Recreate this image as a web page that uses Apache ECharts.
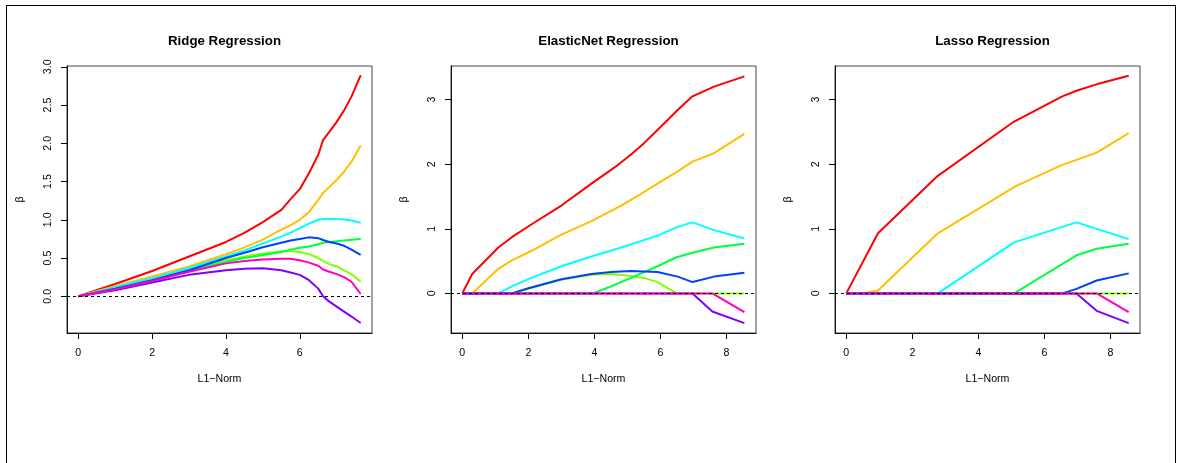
<!DOCTYPE html>
<html><head><meta charset="utf-8">
<script src="https://cdn.jsdelivr.net/npm/echarts@6/dist/echarts.min.js"></script>
<style>
html,body{margin:0;padding:0;background:#fff;overflow:hidden;}
#frame{position:absolute;left:6px;top:5px;width:1170px;height:480px;border:1px solid #000;border-bottom:none;box-sizing:border-box;}
#c{position:absolute;left:0;top:0;width:1178px;height:463px;}
</style></head><body>
<div id="frame"></div><div id="c"></div>
<script>
// ---------- data ----------
const panelTitles = ['Ridge Regression', 'ElasticNet Regression', 'Lasso Regression'];
const lineColors = ['#FF0000', '#FFBF00', '#80FF00', '#00FF40', '#00FFFF', '#0040FF', '#8000FF', '#FF00BF'];

const ridgeX = [0, 1, 2, 3, 4, 4.5, 5, 5.5, 5.75, 6, 6.25, 6.5, 6.63, 6.8, 7.0, 7.2, 7.4, 7.65];
const ridgeRed     = [0, 0.16, 0.33, 0.52, 0.71, 0.83, 0.97, 1.13, 1.27, 1.40, 1.61, 1.85, 2.04, 2.15, 2.28, 2.43, 2.61, 2.89];
const ridgeOrange  = [0, 0.13, 0.26, 0.39, 0.55, 0.64, 0.74, 0.87, 0.93, 1.00, 1.10, 1.26, 1.35, 1.43, 1.52, 1.63, 1.76, 1.97];
const ridgeLime    = [0, 0.11, 0.22, 0.34, 0.47, 0.52, 0.56, 0.59, 0.59, 0.58, 0.55, 0.50, 0.46, 0.42, 0.39, 0.34, 0.29, 0.19];
const ridgeGreen   = [0, 0.10, 0.21, 0.335, 0.45, 0.50, 0.54, 0.58, 0.61, 0.635, 0.65, 0.68, 0.70, 0.71, 0.72, 0.73, 0.74, 0.75];
const ridgeCyan    = [0, 0.12, 0.235, 0.37, 0.52, 0.60, 0.69, 0.78, 0.83, 0.89, 0.95, 1.00, 1.01, 1.01, 1.01, 1.005, 0.99, 0.96];
const ridgeBlue    = [0, 0.10, 0.21, 0.34, 0.50, 0.57, 0.64, 0.70, 0.73, 0.75, 0.77, 0.76, 0.735, 0.71, 0.69, 0.66, 0.61, 0.54];
const ridgePurple  = [0, 0.08, 0.18, 0.28, 0.34, 0.36, 0.365, 0.34, 0.31, 0.28, 0.21, 0.10, 0, -0.07, -0.135, -0.20, -0.265, -0.35];
const ridgeMagenta = [0, 0.09, 0.20, 0.32, 0.43, 0.46, 0.48, 0.49, 0.49, 0.47, 0.44, 0.40, 0.35, 0.32, 0.29, 0.25, 0.19, 0.03];

const enRed     = [[0,0],[0.30,0.30],[1.09,0.71],[1.50,0.87],[2.10,1.07],[3.0,1.36],[3.91,1.70],[4.61,1.95],[5.11,2.15],[5.51,2.33],[5.91,2.53],[6.52,2.84],[6.97,3.05],[7.62,3.20],[8.54,3.36]];
const enOrange  = [[0,0],[0.30,0],[1.09,0.38],[1.50,0.51],[2.10,0.66],[3.0,0.91],[3.91,1.12],[4.81,1.36],[5.31,1.51],[5.91,1.70],[6.52,1.89],[6.97,2.04],[7.62,2.17],[8.54,2.47]];
const enLime    = [[0,0],[1.5,0],[2.0,0.07],[3.0,0.21],[3.91,0.29],[4.51,0.30],[5.11,0.27],[5.51,0.24],[5.91,0.175],[6.49,0],[8.54,0]];
const enGreen   = [[0,0],[3.96,0],[4.51,0.11],[5.11,0.24],[5.91,0.42],[6.49,0.56],[6.97,0.63],[7.62,0.71],[8.54,0.77]];
const enCyan    = [[0,0],[1.09,0],[1.55,0.12],[2.0,0.22],[3.0,0.42],[3.91,0.57],[4.91,0.725],[5.91,0.895],[6.52,1.03],[6.97,1.10],[7.62,0.98],[8.54,0.85]];
const enBlue    = [[0,0],[1.5,0],[2.0,0.08],[3.0,0.22],[3.91,0.30],[4.51,0.33],[5.11,0.345],[5.91,0.33],[6.52,0.26],[6.97,0.175],[7.62,0.26],[8.54,0.32]];
const enPurple  = [[0,0],[6.97,0],[7.57,-0.28],[8.54,-0.46]];
const enMagenta = [[0,0],[7.57,0],[8.54,-0.29]];

const laRed     = [[0,0],[0.96,0.93],[2.77,1.82],[5.08,2.66],[6.54,3.05],[6.99,3.14],[7.60,3.24],[8.55,3.37]];
const laOrange  = [[0,0],[0.45,0],[0.96,0.046],[2.77,0.93],[5.13,1.66],[6.54,1.99],[6.99,2.07],[7.58,2.18],[8.55,2.48]];
const laLime    = [[0,0],[8.55,0]];
const laGreen   = [[0,0],[5.08,0],[6.97,0.59],[7.58,0.69],[8.55,0.77]];
const laCyan    = [[0,0],[2.77,0],[5.08,0.79],[6.54,1.03],[6.97,1.10],[8.55,0.84]];
const laBlue    = [[0,0],[6.54,0],[6.97,0.07],[7.58,0.20],[8.55,0.31]];
const laPurple  = [[0,0],[6.97,0],[7.58,-0.27],[8.55,-0.46]];
const laMagenta = [[0,0],[7.58,0],[8.55,-0.29]];

const ridgeXTicks = [0, 2, 4, 6];
const ridgeYTicks = [0, 0.5, 1, 1.5, 2, 2.5, 3];
const netXTicks = [0, 2, 4, 6, 8];
const netYTicks = [0, 1, 2, 3];
const xName = 'L1\u2212Norm';
const yName = '\u03b2';

// ---------- build ----------
const FONT = '"Liberation Sans", Arial, Helvetica, sans-serif';
const ridgeSeries = [ridgeRed, ridgeOrange, ridgeLime, ridgeGreen, ridgeCyan, ridgeBlue, ridgePurple, ridgeMagenta]
  .map(arr => ridgeX.map((x, i) => [x, arr[i]]));
const enSeries = [enRed, enOrange, enLime, enGreen, enCyan, enBlue, enPurple, enMagenta];
const laSeries = [laRed, laOrange, laLime, laGreen, laCyan, laBlue, laPurple, laMagenta];

const panels = [
  {series: ridgeSeries, xr: [-0.306, 7.956], yr: [-0.48, 3.01], xt: ridgeXTicks, yt: ridgeYTicks, yfmt: v => v.toFixed(1), left: 67},
  {series: enSeries, xr: [-0.342, 8.892], yr: [-0.613, 3.52], xt: netXTicks, yt: netYTicks, yfmt: v => String(v), left: 451},
  {series: laSeries, xr: [-0.342, 8.892], yr: [-0.613, 3.52], xt: netXTicks, yt: netYTicks, yfmt: v => String(v), left: 835}
];
const GW = 305, GH = 267, GT = 66;

const option = {
  animation: false,
  backgroundColor: 'transparent',
  title: panels.map((p, i) => ({
    text: panelTitles[i], left: p.left + GW / 2, top: 30, textAlign: 'center',
    textStyle: {fontFamily: FONT, fontSize: 13.3, fontWeight: 'bold', color: '#000'}
  })),
  grid: panels.map(p => ({left: p.left, top: GT, width: GW, height: GH, show: true, borderColor: '#444', borderWidth: 1, backgroundColor: 'transparent'})),
  xAxis: panels.map((p, i) => ({
    type: 'value', gridIndex: i, min: p.xr[0], max: p.xr[1],
    name: xName, nameLocation: 'middle', nameGap: 41,
    nameTextStyle: {fontFamily: FONT, fontSize: 10.6, color: '#000'},
    axisLine: {show: true, onZero: false, lineStyle: {color: '#111', width: 1}},
    axisTick: {show: true, inside: false, length: 6, lineStyle: {color: '#000', width: 1}, customValues: p.xt},
    axisLabel: {show: true, margin: 15, fontFamily: FONT, fontSize: 10.6, color: '#000', customValues: p.xt, formatter: v => String(v)},
    splitLine: {show: false}
  })),
  yAxis: panels.map((p, i) => ({
    type: 'value', gridIndex: i, min: p.yr[0], max: p.yr[1],
    name: yName, nameLocation: 'middle', nameGap: 41, nameRotate: 90,
    nameTextStyle: {fontFamily: FONT, fontSize: 10.6, color: '#000'},
    axisLine: {show: true, onZero: false, lineStyle: {color: '#111', width: 1}},
    axisTick: {show: true, inside: false, length: 6, lineStyle: {color: '#000', width: 1}, customValues: p.yt},
    axisLabel: {show: true, rotate: 90, margin: 13, fontFamily: FONT, fontSize: 10.6, color: '#000', customValues: p.yt, formatter: p.yfmt},
    splitLine: {show: false}
  })),
  series: []
};

panels.forEach((p, gi) => {
  p.series.forEach((data, si) => {
    const s = {
      type: 'line', xAxisIndex: gi, yAxisIndex: gi, data: data,
      showSymbol: false, symbol: 'none', silent: true,
      lineStyle: {color: lineColors[si], width: 2},
      itemStyle: {color: lineColors[si]},
      z: 2 + si * 0.01
    };
    if (si === p.series.length - 1) {
      s.markLine = {
        silent: true, symbol: ['none', 'none'], label: {show: false}, animation: false,
        lineStyle: {color: '#000', type: [3, 3], width: 1},
        data: [{yAxis: 0}]
      };
    }
    option.series.push(s);
  });
});

const chart = echarts.init(document.getElementById('c'), null, {renderer: 'canvas'});
chart.setOption(option);
</script>
</body></html>
